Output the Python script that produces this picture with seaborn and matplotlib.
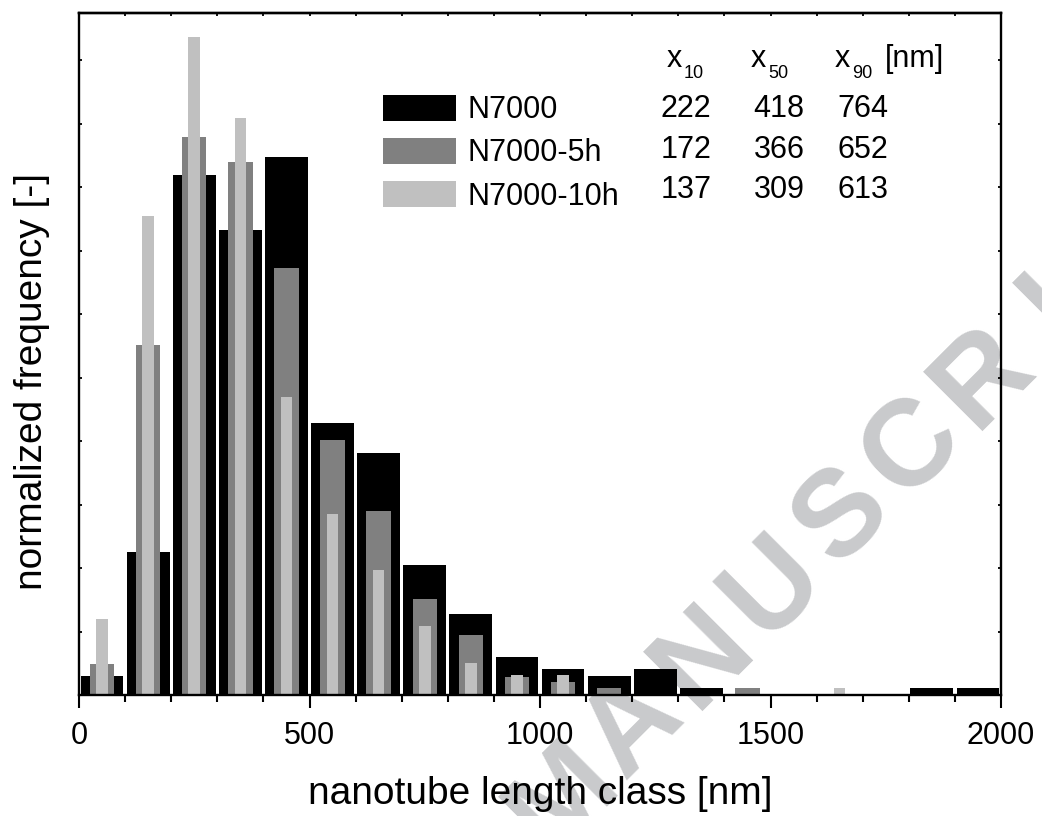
import numpy as np
import matplotlib
matplotlib.use("Agg")
import matplotlib.pyplot as plt
from matplotlib.patches import Patch
from matplotlib.ticker import MultipleLocator, NullFormatter
import seaborn as sns

# length classes (bin centres, nm) and normalized frequencies
length_class = np.arange(50, 2000, 100)
freq_n7000 = [0.30, 2.25, 8.20, 7.32, 8.48, 4.29, 3.81, 2.05, 1.28, 0.60,
              0.41, 0.30, 0.41, 0.11, 0.0, 0.0, 0.0, 0.0, 0.11, 0.11]
freq_5h = [0.49, 5.52, 8.79, 8.40, 6.73, 4.02, 2.90, 1.51, 0.95, 0.29,
           0.20, 0.11, 0.0, 0.0, 0.11, 0.0, 0.0, 0.0, 0.0, 0.0]
freq_10h = [1.20, 7.54, 10.37, 9.09, 4.70, 2.85, 1.97, 1.09, 0.51, 0.32,
            0.31, 0.0, 0.0, 0.0, 0.0, 0.0, 0.11, 0.0, 0.0, 0.0]

samples = ["N7000", "N7000-5h", "N7000-10h"]
x10 = [222, 172, 137]
x50 = [418, 366, 309]
x90 = [764, 652, 613]

COLORS = ["#000000", "#808080", "#c0c0c0"]
WIDTHS = [0.93, 0.53, 0.25]
FS = 22

sns.set_style("ticks")
plt.rcParams["font.family"] = ["Liberation Sans", "DejaVu Sans"]
plt.rcParams.update({"text.color": "black", "axes.labelcolor": "black",
                     "xtick.color": "black", "ytick.color": "black",
                     "axes.edgecolor": "black"})

W, H = 1042, 816
fig = plt.figure(figsize=(W / 100, H / 100), dpi=100)

# --- watermark, laid out letter by letter along a 45 deg line ---------------
wm = "MANUSCRIPT"
i_s = wm.index("S")
for i, ch in enumerate(wm):
    px = 843 + 70 * (i - i_s)
    py = 517 - 70 * (i - i_s)
    if px > W + 30:
        continue
    fig.text(px / W, 1 - py / H, ch, rotation=45, rotation_mode="anchor",
             ha="center", va="center", fontsize=88, fontweight="bold",
             color="#c9cacc", zorder=-1)

# --- axes -------------------------------------------------------------------
ax = fig.add_axes([79 / W, 1 - 695 / H, 922 / W, 682.3 / H])
ax.patch.set_alpha(0)

for vals, c, w in zip([freq_n7000, freq_5h, freq_10h], COLORS, WIDTHS):
    sns.barplot(x=length_class, y=vals, native_scale=True, width=w, color=c,
                saturation=1, linewidth=0, errorbar=None, ax=ax)

ax.set_xlim(0, 2000)
ax.set_ylim(0, 10.75)
ax.xaxis.set_major_locator(MultipleLocator(500))
ax.xaxis.set_minor_locator(MultipleLocator(100))
ax.yaxis.set_major_locator(MultipleLocator(1))
ax.yaxis.set_major_formatter(NullFormatter())

for s in ax.spines.values():
    s.set_visible(True)
    s.set_linewidth(1.7)
    s.set_zorder(5)

ax.tick_params(axis="x", which="major", direction="out", length=9.2,
               width=1.5, labelsize=FS, pad=9.8)
ax.tick_params(axis="x", which="minor", direction="out", length=4.8, width=1.5)
ax.tick_params(axis="y", which="both", direction="in", length=2.2, width=1.3,
               left=True, right=True)

top = ax.secondary_xaxis("top")
top.xaxis.set_major_locator(MultipleLocator(100))
top.tick_params(direction="in", length=2.2, width=1.3, labeltop=False)
top.spines["top"].set_linewidth(1.7)

ax.set_xlabel("nanotube length class [nm]", fontsize=28)
ax.set_ylabel("normalized frequency [-]", fontsize=28)
ax.xaxis.set_label_coords(0.5, -0.1187)
ax.yaxis.set_label_coords(-0.0315, 0.4602)

# --- legend with characteristic lengths --------------------------------------
handles = [Patch(facecolor=c, edgecolor="none") for c in COLORS]
ax.legend(handles, samples, loc="upper left", bbox_to_anchor=(0.3297, 0.8794),
          frameon=False, fontsize=FS, handlelength=2.39, handleheight=0.92,
          handletextpad=0.39, labelspacing=0.415, borderpad=0, borderaxespad=0)

row_y = [0.8476, 0.7866, 0.7280]
col_x = [0.6584, 0.7592, 0.8503]
for k in range(len(samples)):
    for cx, vals in zip(col_x, [x10, x50, x90]):
        ax.text(cx, row_y[k], str(vals[k]), transform=ax.transAxes,
                ha="center", va="baseline", fontsize=FS)

head_y = 0.9208
sub_y = 0.9043
for xl, sub in zip([667, 751, 835], ["10", "50", "90"]):
    ax.text((xl - 79) / 922, head_y, "x", transform=ax.transAxes,
            ha="left", va="baseline", fontsize=FS)
    ax.text((xl + 17 - 79) / 922, sub_y, sub, transform=ax.transAxes,
            ha="left", va="baseline", fontsize=13)
ax.text((885 - 79) / 922, head_y, "[nm]", transform=ax.transAxes,
        ha="left", va="baseline", fontsize=FS)

fig.savefig("out.png", dpi=100)
